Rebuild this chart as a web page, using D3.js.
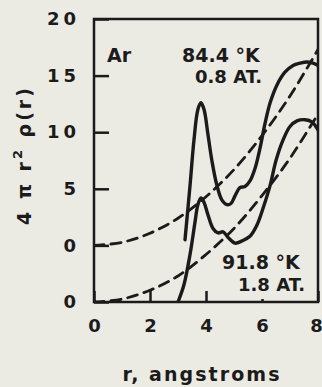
<!DOCTYPE html>
<html>
<head>
<meta charset="utf-8">
<script src="https://cdn.jsdelivr.net/npm/d3@7"></script>
<style>
  html, body { margin: 0; padding: 0; background: #ebeae3; }
  svg { display: block; }
  text { font-family: "DejaVu Sans", sans-serif; fill: #1b1b1b; }
</style>
</head>
<body>
<svg id="chart" width="322" height="387"></svg>
<script>
// r in angstroms
const rUpper = [3.25, 3.43, 3.57, 3.71, 3.82, 3.93, 4.07, 4.21, 4.39, 4.57, 4.75, 4.89, 5.04, 5.21, 5.39, 5.57, 5.75, 5.93, 6.11, 6.29, 6.54, 6.82, 7.11, 7.36, 7.61, 7.82, 8.0]
const gUpper = [0.5, 5.3, 9.3, 12.0, 12.6, 12.0, 9.8, 7.5, 5.3, 4.0, 3.6, 3.7, 4.4, 5.1, 5.2, 5.7, 6.8, 8.6, 10.8, 12.6, 14.2, 15.3, 15.9, 16.1, 16.2, 16.1, 15.9]

const rLower = [3.0, 3.21, 3.43, 3.61, 3.71, 3.82, 3.93, 4.07, 4.25, 4.43, 4.61, 4.79, 5.04, 5.29, 5.57, 5.82, 6.04, 6.29, 6.5, 6.75, 7.0, 7.25, 7.54, 7.79, 8.0]
const gLower = [0, 1.5, 4.2, 7.1, 8.6, 9.2, 8.8, 7.7, 6.5, 6.1, 6.2, 5.7, 5.2, 5.4, 5.8, 6.8, 8.3, 10.3, 12.5, 14.3, 15.5, 16.0, 16.1, 15.9, 15.2]

// average density curves 4 pi r^2 rho0
const rDash = [0, 1, 2, 3, 4, 5, 6, 7, 8]
const dashUpper = [0, 0.27, 1.08, 2.4, 4.3, 6.7, 9.7, 13.2, 17.3]
const dashLower = [0, 0.26, 1.04, 2.3, 4.2, 6.5, 9.4, 12.7, 16.6]

const xTicks = [0, 2, 4, 6, 8]
const yTicks = [-5, 0, 5, 10, 15, 20]
const yTickLabels = ["0", "0", "5", "10", "15", "20"]

const lowerShift = 5  // 91.8 K curve drawn 5 units below the 84.4 K one

const svg = d3.select('#chart')
const mLeft = 94, mRight = 318, mTop = 19, mBottom = 302

const x = d3.scaleLinear().domain([0, 8]).range([mLeft, mRight])
const y = d3.scaleLinear().domain([-5, 20]).range([mBottom, mTop])

const ink = '#1b1b1b'

// axes
const xAxis = svg.append('g').attr('transform', `translate(0,${mBottom})`)
  .call(d3.axisBottom(x).tickValues(xTicks).tickSizeInner(-11).tickSizeOuter(0).tickPadding(17))
const yAxis = svg.append('g').attr('transform', `translate(${mLeft},0)`)
  .call(d3.axisLeft(y).tickValues(yTicks).tickFormat((d, i) => yTickLabels[i])
    .tickSizeInner(-15).tickSizeOuter(0).tickPadding(14))

;[xAxis, yAxis].forEach(a => {
  a.select('.domain').remove()
  a.selectAll('line').attr('stroke', ink).attr('stroke-width', 2.5)
  a.selectAll('text').attr('fill', ink).style('font-size', '18px').style('font-weight', 'bold')
})
xAxis.selectAll('text').attr('dy', '0.71em')
xAxis.selectAll('.tick').filter(d => d === 6).select('line').attr('y2', -3)
xAxis.selectAll('.tick').filter(d => d === 8).select('text').attr('x', -2)
yAxis.selectAll('text').style('letter-spacing', '4px')

// frame
svg.append('rect')
  .attr('x', mLeft).attr('y', mTop)
  .attr('width', mRight - mLeft).attr('height', mBottom - mTop)
  .attr('fill', 'none').attr('stroke', ink).attr('stroke-width', 2.5)

const line = d3.line().x(d => x(d[0])).y(d => y(d[1])).curve(d3.curveCatmullRom.alpha(0.5))

const curves = [
  { pts: rDash.map((r, i) => [r, dashUpper[i]]), dash: '10,7', w: 2.8 },
  { pts: rDash.map((r, i) => [r, dashLower[i] - lowerShift]), dash: '10,7', w: 2.8 },
  { pts: rUpper.map((r, i) => [r, gUpper[i]]), dash: null, w: 3.4 },
  { pts: rLower.map((r, i) => [r, gLower[i] - lowerShift]), dash: null, w: 3.4 }
]

svg.append('defs').append('clipPath').attr('id', 'plotclip')
  .append('rect').attr('x', mLeft).attr('y', mTop).attr('width', mRight - mLeft).attr('height', mBottom - mTop)

svg.append('g').attr('clip-path', 'url(#plotclip)')
  .selectAll('path').data(curves).join('path')
  .attr('d', d => line(d.pts))
  .attr('fill', 'none')
  .attr('stroke', ink)
  .attr('stroke-width', d => d.w)
  .attr('stroke-dasharray', d => d.dash)
  .attr('stroke-linecap', 'round')

// annotations
const note = (tx, ty, s, size) => svg.append('text')
  .attr('x', tx).attr('y', ty).text(s)
  .style('font-size', size + 'px').style('font-weight', 'bold')

note(107, 62, 'Ar', 19)
note(182, 62, '84.4 °K', 19)
note(195, 83, '0.8 AT.', 18)
note(222, 269, '91.8 °K', 19)
note(238, 291, '1.8 AT.', 18)

// axis titles
svg.append('text')
  .attr('x', 201).attr('y', 381)
  .attr('text-anchor', 'middle')
  .attr('textLength', 157).attr('lengthAdjust', 'spacing')
  .style('font-size', '19px').style('font-weight', 'bold')
  .text('r, angstroms')

const yt = svg.append('text')
  .attr('transform', 'translate(31,155) rotate(-90)')
  .attr('text-anchor', 'middle')
  .style('font-size', '19px').style('font-weight', 'bold')
  .style('letter-spacing', '3px')
yt.append('tspan').text('4 π r')
yt.append('tspan').attr('dy', -9).style('font-size', '13px').text('2')
yt.append('tspan').attr('dy', 9).text(' ρ(r)')
</script>
</body>
</html>
